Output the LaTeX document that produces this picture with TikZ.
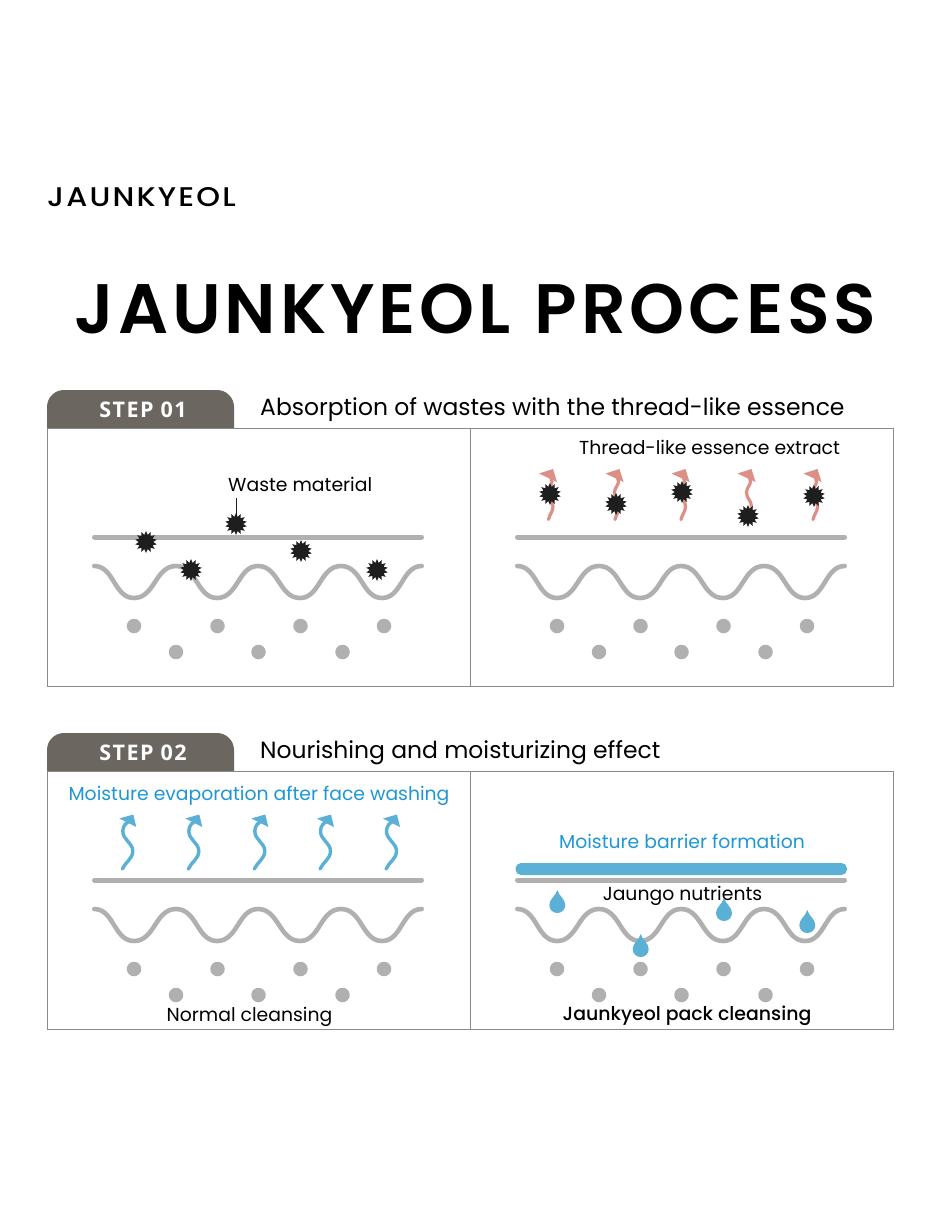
\documentclass[tikz,border=0pt]{standalone}
\usepackage{fontspec}
\setmainfont{Poppins}
\newfontfamily\tabfont{Open Sans}[BoldFont={Open Sans Bold},LetterSpace=7]
\newfontfamily\brandfont{Poppins Medium}[FakeStretch=1.12,LetterSpace=8]
\newfontfamily\headfont{Poppins SemiBold}[LetterSpace=5.4]
\newfontfamily\mediumfont{Poppins Medium}
\usetikzlibrary{shapes.geometric}
\definecolor{tabgrey}{HTML}{6B6660}
\definecolor{skin}{HTML}{B0B0B0}
\definecolor{frameline}{HTML}{8A8A8A}
\definecolor{soot}{HTML}{1E1E1E}
\definecolor{thread}{HTML}{DC8F86}
\definecolor{water}{HTML}{5BB0D5}
\definecolor{skyink}{HTML}{1F97D4}
\newcommand{\fs}[1]{\fontsize{#1}{#1}\selectfont}
\tikzset{
  x=1pt,y=-1pt,
  panel/.style={draw=frameline,line width=0.9pt,fill=white},
  tabshape/.style={fill=tabgrey},
  skinline/.style={draw=skin,line width=5pt,line cap=round},
  wave/.style={draw=skin,line width=4.6pt,line cap=round},
  dot/.style={circle,fill=skin,minimum size=14.5pt,inner sep=0pt},
  waste/.style={star,star points=14,star point ratio=1.5,fill=soot,minimum size=22pt,inner sep=0pt},
  lab/.style={inner sep=0pt,text=black,font=\fs{18.8}},
  bluelab/.style={inner sep=0pt,text=skyink,font=\fs{18.8}},
  head/.style={inner sep=0pt,anchor=west,text=black,font=\fs{23.45}},
  tablab/.style={inner sep=0pt,text=white,font=\tabfont\bfseries\fs{21.5}},
  pics/layers/.style={code={
    \draw[skinline] (94.5,0) -- (421.5,0);
    \draw[wave] (94.3,29)
      .. controls (114,29) and (114,61) .. (134,61)
      .. controls (155,61) and (155,29) .. (176,29)
      .. controls (197,29) and (197,61) .. (217,61)
      .. controls (238,61) and (238,29) .. (258,29)
      .. controls (279,29) and (279,61) .. (300,61)
      .. controls (320,61) and (320,29) .. (341,29)
      .. controls (362,29) and (362,61) .. (382,61)
      .. controls (402,61) and (402,29) .. (421.7,29);
    \foreach \px in {134,217.5,300.5,384} \node[dot] at (\px,89) {};
    \foreach \px in {176,258.5,342.5} \node[dot] at (\px,115) {};
  }},
  pics/vapour/.style={code={
    \draw[water,line width=3.4pt,line cap=round] (0,0)
      .. controls (3,-7) and (10.5,-10) .. (10.5,-18)
      .. controls (10.5,-26) and (0.5,-29) .. (0.5,-38)
      .. controls (0.5,-43) and (4,-47) .. (8,-48);
    \fill[water] (-3,-50.5) -- (11,-54.5) -- (14,-42) -- cycle;
  }},
  pics/threadline/.style={code={
    \draw[thread,line width=3.2pt,line cap=round] (0,0)
      .. controls (1,-5) and (4.5,-8) .. (4.5,-13)
      .. controls (4.5,-19) and (-0.5,-21) .. (-0.5,-27)
      .. controls (-0.5,-32) and (3.5,-34) .. (3.5,-38)
      .. controls (3.5,-41) and (2,-42) .. (1,-44);
    \fill[thread] (-9.5,-46) -- (4.5,-50.5) -- (8.5,-37.5) -- cycle;
  }},
  pics/droplet/.style={code={
    \fill[water] (0,-15)
      .. controls (1.5,-9) and (8,-6) .. (8,0)
      .. controls (8,4.5) and (4.5,8) .. (0,8)
      .. controls (-4.5,8) and (-8,4.5) .. (-8,0)
      .. controls (-8,-6) and (-1.5,-9) .. cycle;
  }},
}
\begin{document}
\begin{tikzpicture}
\useasboundingbox (0,0) rectangle (940,1215);
\fill[white] (0,0) rectangle (940,1215);

% brand and title
\node[inner sep=0pt,anchor=west,font=\brandfont\fs{27}] (brand) at (47,197) {JAUNKYEOL};
\node[inner sep=0pt,font=\headfont\fs{70}] (title) at (475.5,308.5) {JAUNKYEOL\hspace{4pt} PROCESS};

% step 01
\path[tabshape] (47,428) [rounded corners=17pt] -- (47,390) -- (234,390) [sharp corners] -- (234,428) -- cycle;
\node[tablab] (tabA) at (143,410) {STEP 01};
\node[head] (headA) at (260,410) {Absorption of wastes with the thread-like essence};
\draw[panel] (47,428) rectangle (470,686);
\draw[panel] (470,428) rectangle (893,686);
\pic at (0,537) {layers};
\pic at (423,537) {layers};

\node[lab,anchor=west] (wasteLab) at (228,484.5) {Waste material};
\coordinate (wasteTail) at (236,498);
\node[waste] (w1) at (146,542) {};
\node[waste] (w2) at (236,524) {};
\node[waste] (w3) at (301,551) {};
\node[waste] (w4) at (191,570) {};
\node[waste] (w5) at (377,570) {};
\draw[soot,line width=0.9pt] (wasteTail) -- (w2.center);

\node[lab,anchor=west] (threadLab) at (579,447) {Thread-like essence extract};
\foreach \tx in {548.5,615,681,747,813} \pic at (\tx,519.5) {threadline};
\node[waste] (t1) at (550,494) {};
\node[waste] (t2) at (616,504) {};
\node[waste] (t3) at (682,492) {};
\node[waste] (t4) at (748,516) {};
\node[waste] (t5) at (814,496) {};

% step 02
\path[tabshape] (47,771) [rounded corners=17pt] -- (47,733) -- (234,733) [sharp corners] -- (234,771) -- cycle;
\node[tablab] (tabB) at (143,753) {STEP 02};
\node[head] (headB) at (260,753) {Nourishing and moisturizing effect};
\draw[panel] (47,771) rectangle (470,1029);
\draw[panel] (470,771) rectangle (893,1029);
\pic at (0,880) {layers};
\pic at (423,880) {layers};

\node[bluelab] (evapLab) at (259,796) {Moisture evaporation after face washing};
\foreach \bx in {122.3,188.3,254.3,320,386} \pic at (\bx,869) {vapour};
\node[lab] (normalLab) at (249.5,1017) {Normal cleansing};

\node[bluelab] (barrierLab) at (682,841) {Moisture barrier formation};
\fill[water,rounded corners=5.5pt] (515.5,863) rectangle (847,875);
\node[lab] (nutrientLab) at (682.5,896) {Jaungo nutrients};
\pic at (557.3,905) {droplet};
\pic at (724,913) {droplet};
\pic at (640.7,949) {droplet};
\pic at (807.3,925) {droplet};
\node[lab,font=\mediumfont\fs{18.9}] (packLab) at (687,1016) {Jaunkyeol pack cleansing};
\end{tikzpicture}
\end{document}
